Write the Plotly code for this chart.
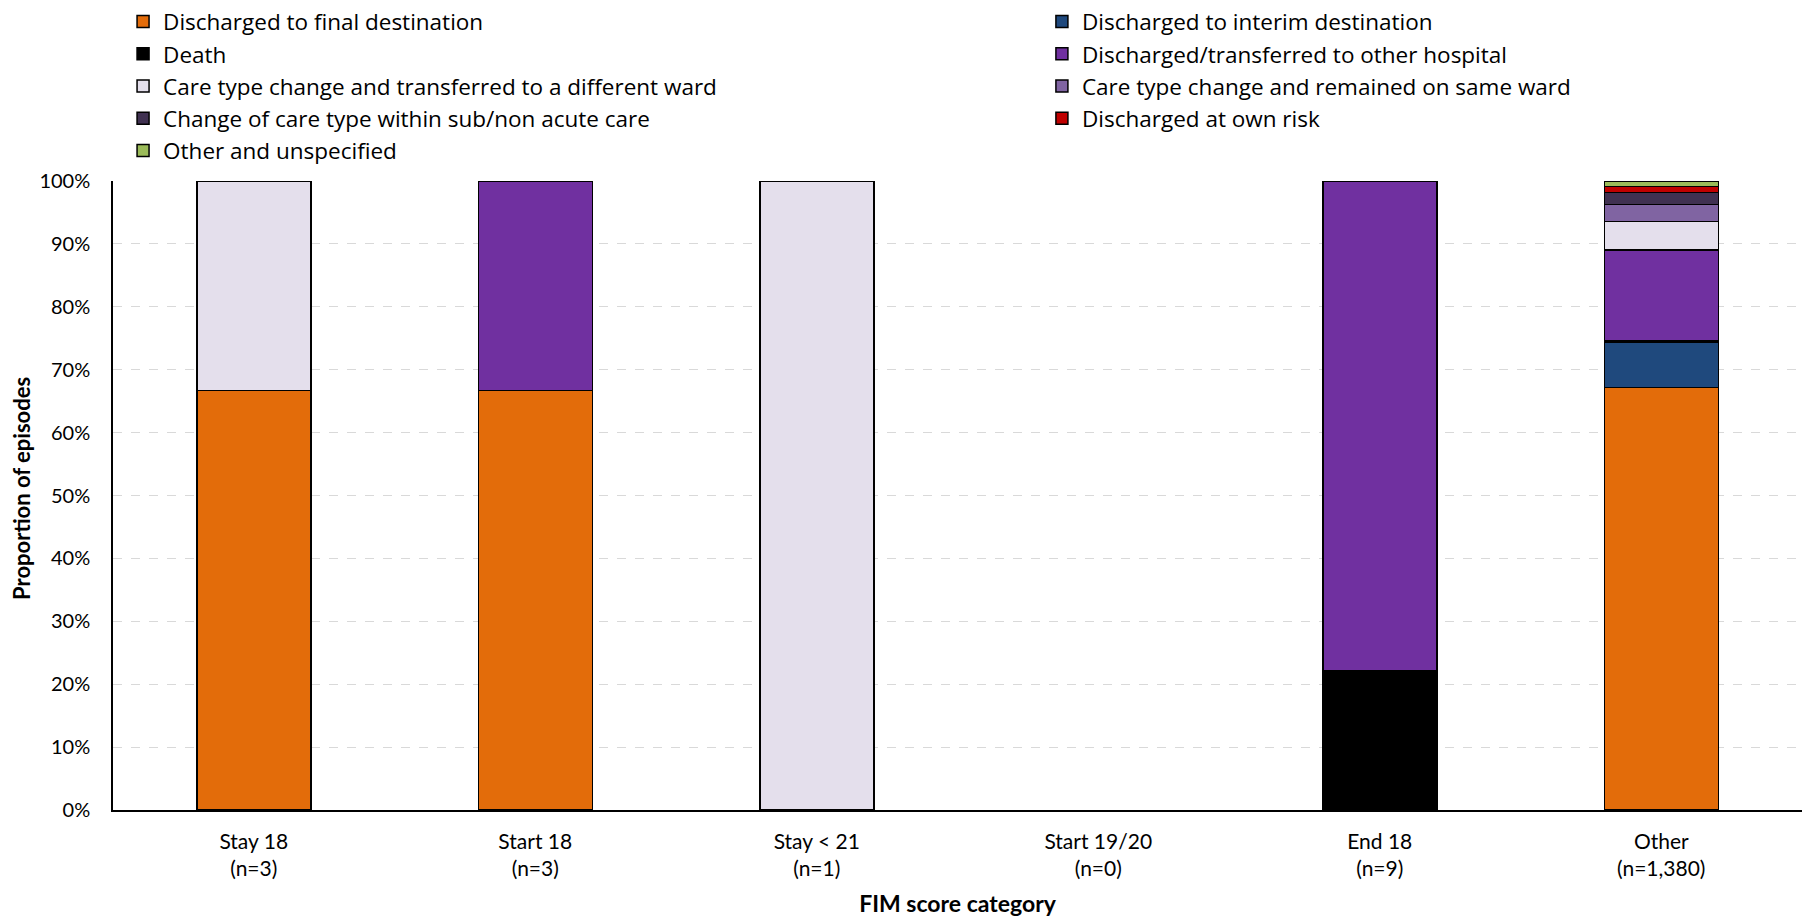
import plotly.graph_objects as go

categories = ["Stay 18<br>(n=3)", "Start 18<br>(n=3)", "Stay < 21<br>(n=1)",
              "Start 19/20<br>(n=0)", "End 18<br>(n=9)", "Other<br>(n=1,380)"]

series_names = [
    "Discharged to final destination",
    "Discharged to interim destination",
    "Death",
    "Discharged/transferred to other hospital",
    "Care type change and transferred to a different ward",
    "Care type change and remained on same ward",
    "Change of care type within sub/non acute care",
    "Discharged at own risk",
    "Other and unspecified",
]

y_title = "Proportion of episodes"
x_title = "FIM score category"

# proportions (None = no episodes in that category)
final_dest = [0.667, 0.667, None, None, None, 0.672]
interim_dest = [None, None, None, None, None, 0.071]
death = [None, None, None, None, 0.222, 0.003]
other_hospital = [None, 0.333, None, None, 0.778, 0.144]
diff_ward = [0.333, None, 1.0, None, None, 0.046]
same_ward = [None, None, None, None, None, 0.027]
sub_non_acute = [None, None, None, None, None, 0.019]
own_risk = [None, None, None, None, None, 0.009]
other_unspec = [None, None, None, None, None, 0.009]

series_values = [final_dest, interim_dest, death, other_hospital, diff_ward,
                 same_ward, sub_non_acute, own_risk, other_unspec]

colors = ["#E36C0A", "#1F497D", "#000000", "#7030A0", "#E4DFEC",
          "#8064A2", "#403151", "#C00000", "#9BBB59"]

FONT = "Lato"
LEG_FONT = "Open Sans"

fig = go.Figure()
for i, (name, vals, col) in enumerate(zip(series_names, series_values, colors)):
    fig.add_trace(go.Bar(
        x=categories, y=vals, name=name,
        legend="legend" if i % 2 == 0 else "legend2",
        marker=dict(color=col, line=dict(color="#000000", width=1.5)),
    ))

leg_common = dict(
    orientation="v",
    traceorder="normal",
    xref="container", yref="paper",
    y=1.287, xanchor="left", yanchor="top",
    font=dict(family=LEG_FONT, size=22.5, color="#000000"),
    itemclick=False,
    bgcolor="rgba(0,0,0,0)",
    tracegroupgap=0,
)

fig.update_layout(
    barmode="stack",
    bargap=0.595,
    width=1807, height=921,
    paper_bgcolor="white", plot_bgcolor="white",
    font=dict(family=FONT, color="#000000"),
    margin=dict(l=113, r=5, t=181, b=111, autoexpand=False),
    legend=dict(x=0.0681, **leg_common),
    legend2=dict(x=0.5766, **leg_common),
    xaxis=dict(
        showline=True, linecolor="#000000", linewidth=1.5,
        ticks="outside", ticklen=12, tickcolor="rgba(0,0,0,0)",
        tickfont=dict(family=FONT, size=21), tickangle=0,
        title=dict(text="<b>" + x_title + "</b>", font=dict(family=FONT, size=23), standoff=17),
    ),
    yaxis=dict(
        range=[0, 1], tickformat=".0%", dtick=0.1,
        showline=True, linecolor="#000000", linewidth=1.5,
        showgrid=True, gridcolor="#D9D9D9", griddash="dash", gridwidth=1,
        zeroline=False,
        tickfont=dict(family=FONT, size=20),
        ticks="outside", ticklen=17, tickcolor="rgba(0,0,0,0)",
    ),
    annotations=[dict(
        text="<b>" + y_title + "</b>",
        xref="paper", yref="paper", x=-0.0539, y=0.512,
        xanchor="center", yanchor="middle", textangle=-90, showarrow=False,
        font=dict(family=FONT, size=22, color="#000000"),
    )],
)

fig.write_html(
    "out.html",
    config={"displayModeBar": False},
    post_script="document.body.style.margin='0';document.body.style.overflow='hidden';",
)
